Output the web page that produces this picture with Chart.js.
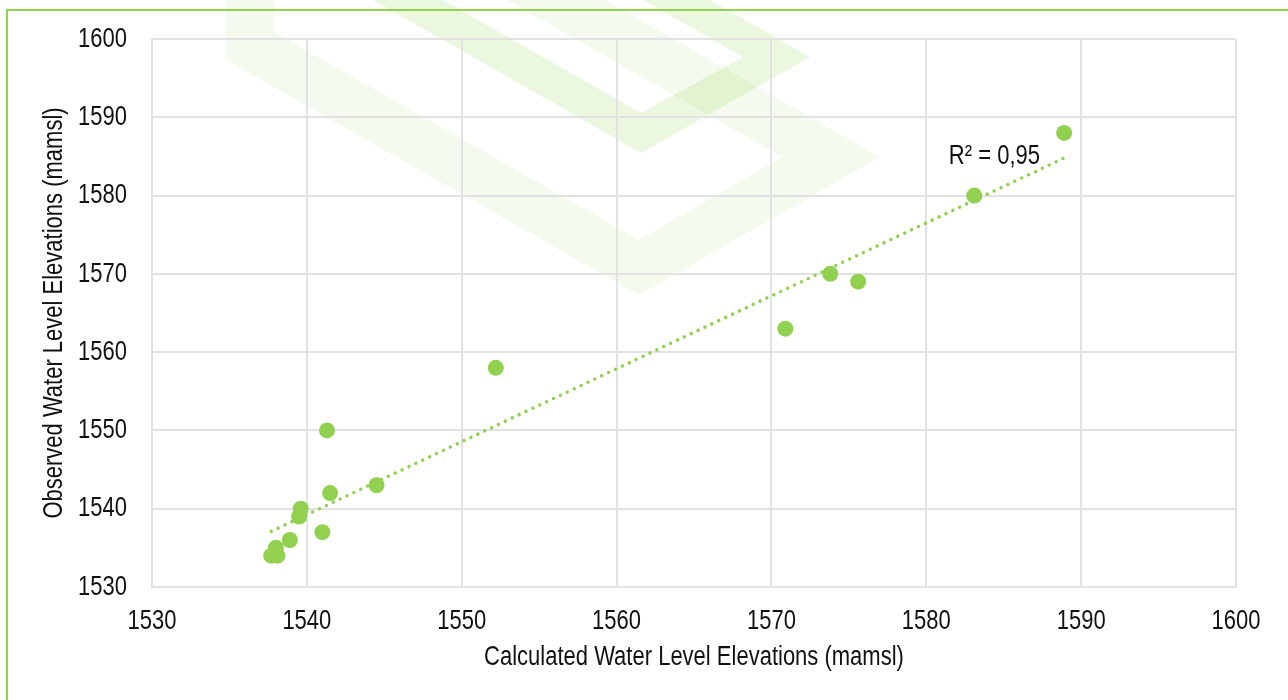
<!DOCTYPE html>
<html lang="en">
<head>
    <meta charset="UTF-8">
    <title>Observed vs Calculated Water Levels</title>
    <script src="https://cdn.jsdelivr.net/npm/chart.js"></script>
    <style>
        body { margin: 0; background: #ffffff; }
        .chart { position: relative; width: 1288px; height: 700px; }
    </style>
</head>
<body>
    <div class="chart">
        <canvas id="myChart"></canvas>
    </div>

<script>
    // dados
    var calculado = [1537.7, 1538.1, 1538.0, 1538.9, 1539.5, 1539.6, 1541.0, 1541.3, 1541.5, 1544.5, 1552.2, 1570.9, 1573.8, 1575.6, 1583.1, 1588.9];
    var observado = [1534, 1534, 1535, 1536, 1539, 1540, 1537, 1550, 1542, 1543, 1558, 1563, 1570, 1569, 1580, 1588];

    // linha de tendencia (pontas)
    var tendenciaX = [1537.7, 1588.9];
    var tendenciaY = [1537.1, 1584.8];

    var ticksX = [1530, 1540, 1550, 1560, 1570, 1580, 1590, 1600];
    var ticksY = [1530, 1540, 1550, 1560, 1570, 1580, 1590, 1600];

    var textoR2 = 'R² = 0,95';
    var posR2 = [1584.4, 1585.0];

    var verde = '#92D050';
    var fonte = "'Liberation Sans', Arial, sans-serif";
    var tamanho = 22;
    var esticar = 1.27; // o texto do original e mais alto que largo

    var pontos = [];
    for (var i = 0; i < calculado.length; i++) {
        pontos.push({ x: calculado[i], y: observado[i] });
    }
    var tendencia = [];
    for (var j = 0; j < tendenciaX.length; j++) {
        tendencia.push({ x: tendenciaX[j], y: tendenciaY[j] });
    }

    // marca d'agua, moldura verde e texto esticado
    var fillTextOriginal = null;
    const fundo = {
        id: 'fundo',
        beforeDraw(chart) {
            const ctx = chart.ctx;
            ctx.save();
            ctx.fillStyle = 'rgba(146, 208, 80, 0.10)';
            ctx.beginPath();
            ctx.moveTo(226, 0); ctx.lineTo(226, 60); ctx.lineTo(639, 295); ctx.lineTo(880, 157); ctx.lineTo(605, 0); ctx.closePath();
            ctx.moveTo(274, 0); ctx.lineTo(274, 32); ctx.lineTo(639, 240); ctx.lineTo(782, 157); ctx.lineTo(507, 0); ctx.closePath();
            ctx.fill('evenodd');

            ctx.fillStyle = 'rgba(146, 208, 80, 0.18)';
            ctx.beginPath();
            ctx.moveTo(373, 0); ctx.lineTo(641, 153); ctx.lineTo(810, 57); ctx.lineTo(710, 0); ctx.closePath();
            ctx.moveTo(443, 0); ctx.lineTo(641, 113); ctx.lineTo(743, 57); ctx.lineTo(643, 0); ctx.closePath();
            ctx.fill('evenodd');

            ctx.strokeStyle = verde;
            ctx.lineWidth = 2;
            ctx.beginPath();
            ctx.moveTo(7, 700); ctx.lineTo(7, 10); ctx.lineTo(1288, 10);
            ctx.stroke();
            ctx.restore();

            fillTextOriginal = ctx.fillText;
            ctx.fillText = function (texto, x, y, maxWidth) {
                this.save();
                this.translate(x, y);
                this.scale(1, esticar);
                if (maxWidth !== undefined) {
                    fillTextOriginal.call(this, texto, 0, 0, maxWidth);
                } else {
                    fillTextOriginal.call(this, texto, 0, 0);
                }
                this.restore();
            };
        },
        afterDatasetsDraw(chart) {
            const ctx = chart.ctx;
            const x = chart.scales.x.getPixelForValue(posR2[0]);
            const y = chart.scales.y.getPixelForValue(posR2[1]);
            ctx.save();
            ctx.fillStyle = '#111';
            ctx.font = tamanho + 'px ' + fonte;
            ctx.textAlign = 'center';
            ctx.textBaseline = 'middle';
            ctx.fillText(textoR2, x, y);
            ctx.restore();
        },
        afterDraw(chart) {
            if (fillTextOriginal) {
                chart.ctx.fillText = fillTextOriginal;
                fillTextOriginal = null;
            }
        }
    };

    const dados = {
        datasets: [{
            label: 'Linear',
            type: 'line',
            data: tendencia,
            borderColor: verde,
            borderWidth: 3.5,
            borderDash: [0.01, 7.6],
            borderCapStyle: 'round',
            pointRadius: 0,
            fill: false,
            order: 2
        }, {
            label: 'Observed',
            data: pontos,
            backgroundColor: verde,
            borderColor: verde,
            pointRadius: 8,
            borderWidth: 0,
            order: 1
        }]
    };

    function semVirgula(valor) {
        return String(valor);
    }

    const config = {
        type: 'scatter',
        data: dados,
        plugins: [fundo],
        options: {
            responsive: true,
            maintainAspectRatio: false,
            animation: false,
            layout: { padding: { left: 20, right: 52, top: 39, bottom: 0 } },
            plugins: {
                legend: { display: false },
                tooltip: { enabled: false }
            },
            scales: {
                x: {
                    type: 'linear',
                    min: ticksX[0],
                    max: ticksX[ticksX.length - 1],
                    afterBuildTicks: function (scale) {
                        scale.ticks = ticksX.map(function (v) { return { value: v }; });
                    },
                    afterFit: function (scale) { scale.height = 113; },
                    grid: { color: '#e2e2e2', lineWidth: 2, drawTicks: false },
                    border: { color: '#e2e2e2', width: 2 },
                    ticks: { color: '#111', padding: 21, font: { family: fonte, size: tamanho }, callback: semVirgula },
                    title: {
                        display: true,
                        text: 'Calculated Water Level Elevations (mamsl)',
                        color: '#111',
                        font: { family: fonte, size: tamanho },
                        padding: { top: 0, bottom: 29 }
                    }
                },
                y: {
                    type: 'linear',
                    min: ticksY[0],
                    max: ticksY[ticksY.length - 1],
                    afterBuildTicks: function (scale) {
                        scale.ticks = ticksY.map(function (v) { return { value: v }; });
                    },
                    afterFit: function (scale) { scale.width = 132; },
                    grid: { color: '#e2e2e2', lineWidth: 2, drawTicks: false },
                    border: { color: '#e2e2e2', width: 2 },
                    ticks: { color: '#111', padding: 25, font: { family: fonte, size: tamanho }, callback: semVirgula },
                    title: {
                        display: true,
                        text: 'Observed Water Level Elevations (mamsl)',
                        color: '#111',
                        font: { family: fonte, size: tamanho },
                        padding: { top: 21, bottom: 0 }
                    }
                }
            }
        }
    };

    let myChart = new Chart(document.getElementById('myChart'), config);
    console.log('area', myChart.chartArea);
</script>
</body>
</html>
